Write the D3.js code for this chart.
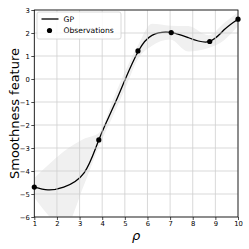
<!DOCTYPE html>
<html>
<head>
<meta charset="utf-8">
<script src="https://cdn.jsdelivr.net/npm/d3@7"></script>
<style>
  html, body { margin: 0; padding: 0; background: #fff; }
  svg { display: block; font-family: "DejaVu Sans", sans-serif; }
</style>
</head>
<body>
<div id="chart"></div>
<script>
// GP mean and band
const gridX = [1, 1.6, 2.3, 3.2, 3.85, 4.5, 5, 5.6, 6.2, 7, 7.8, 8.7, 9.4, 10];
const gpMean = [-4.7, -4.82, -4.7, -4.08, -2.65, -1.2, -0.05, 1.22, 1.9, 2.03, 1.8, 1.62, 2.15, 2.6];
const gpLower = [-5.15, -5.9, -6.5, -4.6, -2.95, -1.55, -0.45, 0.9, 1.45, 1.72, 1.2, 1.35, 1.7, 2.3];
const gpUpper = [-4.3, -3.75, -3.15, -2.6, -2.35, -0.85, 0.3, 1.5, 2.4, 2.32, 2.3, 1.9, 2.45, 2.9];

const obsX = [1, 3.85, 5.58, 7.05, 8.75, 10];
const obsY = [-4.7, -2.65, 1.22, 2.02, 1.63, 2.6];

const xTicks = [1, 2, 3, 4, 5, 6, 7, 8, 9, 10];
const yTicks = [-6, -5, -4, -3, -2, -1, 0, 1, 2, 3];

const width = 249, height = 249;
const margin = {left: 34.3, right: 11, top: 10, bottom: 32};

const svg = d3.select('#chart')
    .append('svg')
    .attr('width', width)
    .attr('height', height);

const x = d3.scaleLinear().domain([1, 10]).range([margin.left, width - margin.right]);
const y = d3.scaleLinear().domain([-6, 3]).range([height - margin.bottom, margin.top]);

svg.append('clipPath').attr('id', 'plotclip')
    .append('rect')
    .attr('x', x(1)).attr('y', y(3))
    .attr('width', x(10) - x(1)).attr('height', y(-6) - y(3));

const plot = svg.append('g').attr('clip-path', 'url(#plotclip)');

// confidence band
const band = d3.area()
    .x((d, i) => x(gridX[i]))
    .y0((d, i) => y(gpLower[i]))
    .y1((d, i) => y(gpUpper[i]))
    .curve(d3.curveMonotoneX);

plot.append('path')
    .datum(gridX)
    .attr('d', band)
    .attr('fill', '#f0f0f0');

// grid
svg.append('g')
    .selectAll('line.vx')
    .data(xTicks)
    .enter()
    .append('line')
    .attr('x1', d => x(d)).attr('x2', d => x(d))
    .attr('y1', y(-6)).attr('y2', y(3))
    .attr('stroke', '#cfcfcf')
    .attr('stroke-width', 0.8);

svg.append('g')
    .selectAll('line.hy')
    .data(yTicks)
    .enter()
    .append('line')
    .attr('x1', x(1)).attr('x2', x(10))
    .attr('y1', d => y(d)).attr('y2', d => y(d))
    .attr('stroke', '#cfcfcf')
    .attr('stroke-width', 0.8);

// mean line
const line = d3.line()
    .x((d, i) => x(gridX[i]))
    .y((d, i) => y(gpMean[i]))
    .curve(d3.curveNatural);

plot.append('path')
    .datum(gridX)
    .attr('d', line)
    .attr('fill', 'none')
    .attr('stroke', '#000')
    .attr('stroke-width', 1.3);

// observations
svg.append('g')
    .selectAll('circle')
    .data(obsX)
    .enter()
    .append('circle')
    .attr('cx', d => x(d))
    .attr('cy', (d, i) => y(obsY[i]))
    .attr('r', 2.6)
    .attr('fill', '#000');

// axes
const fmt = d => d3.format('d')(d).replace('-', '\u2212');

const xAxis = svg.append('g')
    .attr('transform', `translate(0,${y(-6)})`)
    .call(d3.axisBottom(x).tickValues(xTicks).tickFormat(fmt).tickSize(3).tickPadding(1.5));

const yAxis = svg.append('g')
    .attr('transform', `translate(${x(1)},0)`)
    .call(d3.axisLeft(y).tickValues(yTicks).tickFormat(fmt).tickSize(3).tickPadding(1.5));

[xAxis, yAxis].forEach(a => {
    a.select('.domain').remove();
    a.selectAll('text').attr('font-size', 6.8).attr('fill', '#000').attr('font-family', '"DejaVu Sans", sans-serif');
    a.selectAll('line').attr('stroke', '#000').attr('stroke-width', 0.7);
});

// frame
svg.append('rect')
    .attr('x', x(1)).attr('y', y(3))
    .attr('width', x(10) - x(1)).attr('height', y(-6) - y(3))
    .attr('fill', 'none')
    .attr('stroke', '#000')
    .attr('stroke-width', 0.8);

// labels
svg.append('text')
    .attr('transform', `translate(19,${(y(-6) + y(3)) / 2}) rotate(-90)`)
    .attr('text-anchor', 'middle')
    .attr('font-size', 13)
    .text('Smoothness feature');

svg.append('text')
    .attr('x', (x(1) + x(10)) / 2)
    .attr('y', 240)
    .attr('text-anchor', 'middle')
    .attr('font-size', 13)
    .attr('font-style', 'italic')
    .text('\u03c1');

// legend
const legend = svg.append('g');
legend.append('rect')
    .attr('x', 37).attr('y', 12)
    .attr('width', 84).attr('height', 27)
    .attr('rx', 2)
    .attr('fill', 'rgba(255,255,255,0.85)')
    .attr('stroke', '#d0d0d0')
    .attr('stroke-width', 0.8);
legend.append('line')
    .attr('x1', 41.5).attr('x2', 58.5)
    .attr('y1', 19).attr('y2', 19)
    .attr('stroke', '#000').attr('stroke-width', 1.3);
legend.append('text')
    .attr('x', 63.5).attr('y', 21.8)
    .attr('font-size', 7.6)
    .text('GP');
legend.append('circle')
    .attr('cx', 49.5).attr('cy', 30.5).attr('r', 2.6)
    .attr('fill', '#000');
legend.append('text')
    .attr('x', 63.5).attr('y', 33.3)
    .attr('font-size', 7.6)
    .text('Observations');
</script>
</body>
</html>
